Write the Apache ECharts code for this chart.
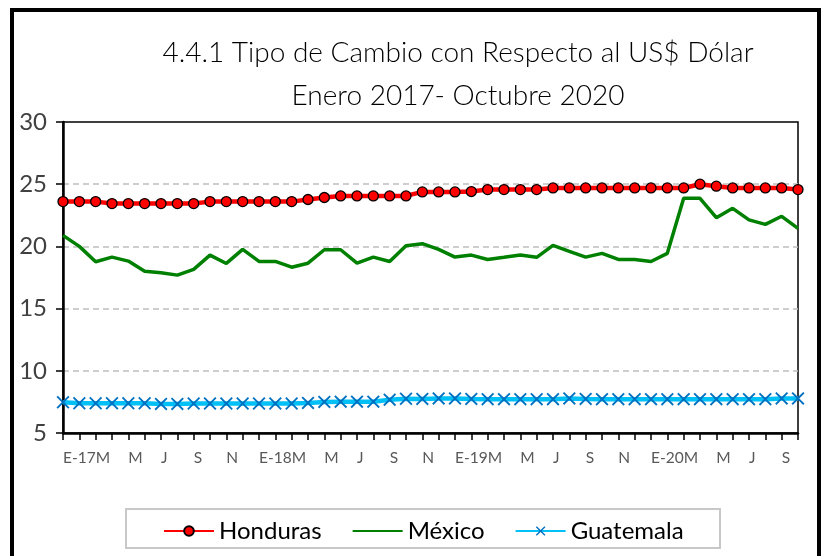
<!DOCTYPE html>
<html>
<head>
<meta charset="utf-8">
<title>Tipo de Cambio</title>
<script src="https://cdn.jsdelivr.net/npm/echarts@6/dist/echarts.min.js"></script>
<style>
  html, body { margin: 0; padding: 0; background: #fff; }
  #chart { width: 827px; height: 556px; }
</style>
</head>
<body>
<div id="chart"></div>
<script>
// meses Enero 2017 - Octubre 2020
const months = [
  'E-17', 'F', 'M', 'A', 'M', 'J', 'J', 'A', 'S', 'O', 'N', 'D',
  'E-18', 'F', 'M', 'A', 'M', 'J', 'J', 'A', 'S', 'O', 'N', 'D',
  'E-19', 'F', 'M', 'A', 'M', 'J', 'J', 'A', 'S', 'O', 'N', 'D',
  'E-20', 'F', 'M', 'A', 'M', 'J', 'J', 'A', 'S', 'O'
];

const honduras = [
  23.60, 23.60, 23.60, 23.44, 23.44, 23.44, 23.44, 23.44, 23.44, 23.60, 23.60, 23.60,
  23.60, 23.60, 23.60, 23.77, 23.93, 24.06, 24.06, 24.06, 24.06, 24.06, 24.38, 24.38,
  24.38, 24.41, 24.57, 24.57, 24.57, 24.57, 24.70, 24.70, 24.70, 24.70, 24.70, 24.70,
  24.70, 24.70, 24.70, 25.00, 24.84, 24.70, 24.70, 24.70, 24.70, 24.57
];

const mexico = [
  20.89, 20.00, 18.77, 19.14, 18.82, 18.01, 17.88, 17.69, 18.15, 19.30, 18.63, 19.76,
  18.79, 18.79, 18.33, 18.65, 19.73, 19.73, 18.65, 19.14, 18.79, 20.06, 20.22, 19.76,
  19.14, 19.30, 18.95, 19.12, 19.30, 19.12, 20.08, 19.60, 19.14, 19.44, 18.95, 18.95,
  18.79, 19.44, 23.87, 23.87, 22.31, 23.06, 22.13, 21.77, 22.42, 21.45
];

const guatemala = [
  7.47, 7.39, 7.39, 7.39, 7.39, 7.39, 7.34, 7.34, 7.37, 7.37, 7.37, 7.37,
  7.37, 7.37, 7.37, 7.42, 7.50, 7.52, 7.52, 7.52, 7.68, 7.75, 7.74, 7.78,
  7.78, 7.74, 7.72, 7.72, 7.72, 7.72, 7.72, 7.78, 7.74, 7.72, 7.72, 7.72,
  7.72, 7.72, 7.72, 7.72, 7.72, 7.72, 7.72, 7.72, 7.78, 7.78
];

const yTicks = { min: 5, max: 30, interval: 5 };

document.addEventListener('DOMContentLoaded', function() {
    const chartDom = document.getElementById('chart');
    const myChart = echarts.init(chartDom);
    const font = 'Lato, "Open Sans", sans-serif';
    const crossPath = 'path://M0,1L1,0L5,4L9,0L10,1L6,5L10,9L9,10L5,6L1,10L0,9L4,5Z';

    const option = {
        backgroundColor: '#fff',
        animation: false,
        title: {
            text: '4.4.1 Tipo de Cambio con Respecto al US$ Dólar\nEnero 2017- Octubre 2020',
            left: 453,
            top: 26,
            textAlign: 'center',
            textStyle: {
                fontFamily: font,
                fontWeight: 300,
                fontSize: 28,
                lineHeight: 43,
                color: '#000'
            }
        },
        graphic: [
            {
                // marco exterior
                type: 'rect',
                shape: { x: 12, y: 10, width: 807, height: 700 },
                style: { fill: 'none', stroke: '#000', lineWidth: 4 },
                silent: true
            },
            {
                // caja de la leyenda
                type: 'rect',
                shape: { x: 126, y: 509, width: 594, height: 39 },
                style: { fill: 'none', stroke: '#c8c8c8', lineWidth: 2 },
                silent: true
            }
        ],
        legend: {
            data: [
                'Honduras',
                { name: 'México', itemStyle: { opacity: 0 } },
                'Guatemala'
            ],
            left: 158,
            top: 514,
            itemWidth: 50,
            itemHeight: 12,
            itemGap: 30,
            textStyle: { fontFamily: font, fontSize: 24, color: '#000' }
        },
        grid: {
            left: 63,
            top: 122,
            right: 29,
            bottom: 123,
            show: true,
            borderColor: '#000',
            borderWidth: 1.5,
            containLabel: false
        },
        xAxis: {
            type: 'category',
            data: months,
            boundaryGap: false,
            axisLine: { lineStyle: { color: '#000', width: 2.5 } },
            axisTick: { interval: 0, length: 7, lineStyle: { color: '#000', width: 1.5 } },
            axisLabel: {
                interval: 1,
                showMinLabel: true,
                hideOverlap: false,
                align: 'left',
                padding: [0, -8, 0, 0],
                margin: 17,
                fontFamily: font,
                fontSize: 15.5,
                color: '#595959'
            },
            splitLine: { show: false }
        },
        yAxis: {
            type: 'value',
            min: yTicks.min,
            max: yTicks.max,
            interval: yTicks.interval,
            axisLine: { show: true, lineStyle: { color: '#000', width: 2.5 } },
            axisTick: { show: true, length: 7, lineStyle: { color: '#000', width: 1.5 } },
            axisLabel: {
                margin: 16,
                fontFamily: font,
                fontSize: 24,
                color: '#404040'
            },
            splitLine: {
                showMinLine: false,
                showMaxLine: false,
                lineStyle: { color: '#bfbfbf', type: [6, 4], width: 1.5 }
            }
        },
        series: [
            {
                name: 'Honduras',
                type: 'line',
                data: honduras,
                symbol: 'circle',
                symbolSize: 10,
                showAllSymbol: true,
                lineStyle: { color: '#ff0000', width: 4.5 },
                itemStyle: { color: '#ff0000', borderColor: '#000', borderWidth: 1.3 },
                z: 3
            },
            {
                name: 'México',
                type: 'line',
                data: mexico,
                symbol: 'none',
                lineStyle: { color: '#008000', width: 3.5 },
                itemStyle: { color: '#008000' },
                z: 2
            },
            {
                name: 'Guatemala',
                type: 'line',
                data: guatemala,
                symbol: crossPath,
                symbolSize: 13,
                showAllSymbol: true,
                lineStyle: { color: '#00c0f8', width: 4.5 },
                itemStyle: { color: '#0070c0' },
                z: 2
            }
        ]
    };
    myChart.setOption(option);

    window.addEventListener('resize', () => {
        myChart.resize();
    });
});
</script>
</body>
</html>
